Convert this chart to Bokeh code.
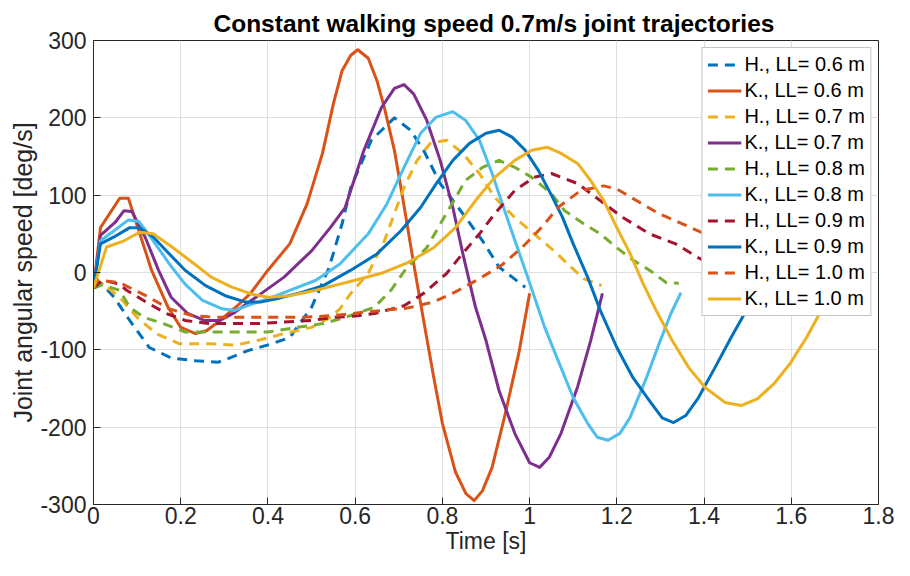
from bokeh.plotting import figure
from bokeh.models import Range1d, FixedTicker, Legend, LegendItem
from bokeh.embed import file_html
from bokeh.resources import INLINE

# ---------------- data ----------------
title_text = "Constant walking speed 0.7m/s joint trajectories"
x_label = "Time [s]"
y_label = "Joint angular speed [deg/s]"

x_ticks = [0, 0.2, 0.4, 0.6, 0.8, 1, 1.2, 1.4, 1.6, 1.8]
x_tick_labels = ["0", "0.2", "0.4", "0.6", "0.8", "1", "1.2", "1.4", "1.6", "1.8"]
y_ticks = [-300, -200, -100, 0, 100, 200, 300]
y_tick_labels = ["-300", "-200", "-100", "0", "100", "200", "300"]

series_names = ["H., LL= 0.6 m", "K., LL= 0.6 m", "H., LL= 0.7 m", "K., LL= 0.7 m",
                "H., LL= 0.8 m", "K., LL= 0.8 m", "H., LL= 0.9 m", "K., LL= 0.9 m",
                "H., LL= 1.0 m", "K., LL= 1.0 m"]

t_h06 = [0, 0.02, 0.047, 0.083, 0.128, 0.18, 0.234, 0.286, 0.31, 0.354, 0.41, 0.45, 0.50, 0.54,
         0.57, 0.59, 0.637, 0.69, 0.727, 0.757, 0.795, 0.847, 0.892, 0.93, 0.99]
v_h06 = [-20, -15, -32, -62, -97, -111, -114, -116, -111, -101, -92, -84, -45, 6,
         63, 110, 171, 200, 184, 158, 115, 76, 41, 7, -19]

t_k06 = [0, 0.016, 0.06, 0.08, 0.104, 0.133, 0.171, 0.2, 0.234, 0.26, 0.29, 0.33, 0.36, 0.40, 0.45,
         0.49, 0.525, 0.55, 0.57, 0.59, 0.606, 0.63, 0.65, 0.667, 0.69, 0.71, 0.734, 0.757, 0.78,
         0.80, 0.83, 0.854, 0.873, 0.892, 0.914, 0.944, 0.975, 1.0]
v_k06 = [-20, 58, 96, 96, 54, 3, -45, -71, -79, -75, -62, -43, -27, 3, 37,
         89, 154, 218, 261, 281, 288, 277, 248, 213, 158, 93, 12, -62, -135,
         -195, -258, -286, -295, -282, -252, -183, -105, -27]

t_h07 = [0, 0.02, 0.06, 0.1, 0.144, 0.196, 0.264, 0.324, 0.376, 0.437, 0.50, 0.543, 0.565, 0.59,
         0.63, 0.667, 0.712, 0.742, 0.772, 0.81, 0.847, 0.885, 0.92, 0.966, 1.01, 1.056, 1.095,
         1.124, 1.165]
v_h07 = [-20, -14, -32, -58, -79, -92, -92, -94, -88, -79, -71, -58, -47, -27,
         -1, 41, 110, 145, 167, 171, 154, 128, 97, 71, 50, 28, 7,
         -8, -17]

t_k07 = [0, 0.016, 0.05, 0.07, 0.088, 0.119, 0.149, 0.178, 0.216, 0.254, 0.29, 0.32, 0.385, 0.437,
         0.50, 0.543, 0.577, 0.62, 0.66, 0.69, 0.712, 0.734, 0.764, 0.795, 0.824, 0.847, 0.876,
         0.9, 0.93, 0.966, 1.0, 1.023, 1.045, 1.072, 1.11, 1.14, 1.167]
v_k07 = [-20, 48, 65, 80, 79, 45, 3, -32, -53, -62, -62, -53, -27, -6,
         28, 58, 84, 158, 213, 238, 243, 231, 197, 145, 84, 24, -45,
         -88, -153, -208, -246, -252, -239, -208, -148, -88, -27]

t_h08 = [0, 0.02, 0.06, 0.083, 0.115, 0.16, 0.21, 0.27, 0.34, 0.40, 0.466, 0.527, 0.577, 0.644,
         0.682, 0.718, 0.764, 0.817, 0.853, 0.892, 0.93, 0.966, 1.005, 1.05, 1.08, 1.124, 1.162,
         1.2, 1.237, 1.275, 1.313, 1.342]
v_h08 = [-20, -16, -23, -45, -58, -66, -77, -77, -77, -77, -71, -66, -58, -45,
         -23, 6, 32, 84, 119, 136, 145, 136, 123, 102, 80, 63, 50,
         32, 16, 3, -13, -14]

t_k08 = [0, 0.016, 0.047, 0.08, 0.104, 0.137, 0.174, 0.21, 0.25, 0.295, 0.324, 0.363, 0.41, 0.45,
         0.51, 0.565, 0.63, 0.673, 0.712, 0.75, 0.786, 0.824, 0.853, 0.885, 0.914, 0.953, 0.998,
         1.034, 1.072, 1.10, 1.133, 1.155, 1.18, 1.207, 1.23, 1.268, 1.297, 1.324, 1.347]
v_k08 = [-20, 41, 54, 68, 66, 41, 11, -15, -36, -47, -49, -41, -32, -23,
         -10, 11, 50, 89, 136, 180, 201, 208, 197, 171, 128, 63, -10,
         -70, -123, -162, -195, -213, -217, -208, -188, -136, -92, -53, -26]

t_h09 = [0, 0.02, 0.06, 0.076, 0.12, 0.167, 0.21, 0.264, 0.324, 0.376, 0.437, 0.50, 0.55, 0.606,
         0.644, 0.712, 0.757, 0.81, 0.847, 0.885, 0.92, 0.966, 1.01, 1.05, 1.11, 1.162, 1.214,
         1.275, 1.335, 1.387, 1.45, 1.515]
v_h09 = [-20, -10, -15, -23, -38, -53, -62, -66, -66, -66, -64, -62, -58, -56,
         -53, -43, -27, -1, 25, 50, 76, 106, 123, 128, 115, 93, 71,
         50, 37, 19, 3, -12]

t_k09 = [0, 0.016, 0.047, 0.083, 0.106, 0.137, 0.174, 0.21, 0.257, 0.302, 0.347, 0.385, 0.42, 0.475,
         0.527, 0.59, 0.65, 0.705, 0.75, 0.786, 0.824, 0.862, 0.9, 0.93, 0.96, 0.99, 1.02,
         1.05, 1.075, 1.10, 1.133, 1.162, 1.2, 1.237, 1.275, 1.304, 1.33, 1.358, 1.387, 1.425,
         1.462, 1.493, 1.515]
v_k09 = [-20, 37, 46, 58, 58, 46, 24, 3, -17, -30, -38, -38, -34, -26,
         -17, 3, 24, 54, 84, 115, 145, 167, 180, 184, 175, 158, 132,
         100, 72, 37, -6, -49, -97, -136, -166, -188, -194, -185, -162, -123,
         -84, -53, -25]

t_h10 = [0, 0.01, 0.06, 0.12, 0.174, 0.227, 0.286, 0.354, 0.414, 0.48, 0.543, 0.644, 0.72, 0.78,
         0.83, 0.885, 0.937, 0.982, 1.027, 1.065, 1.117, 1.17, 1.2, 1.245, 1.297, 1.35, 1.394,
         1.45, 1.52, 1.6, 1.69]
v_h10 = [-20, -10, -13, -30, -47, -56, -58, -58, -58, -58, -56, -50, -46, -38,
         -25, -8, 10, 32, 58, 84, 106, 112, 108, 93, 76, 63, 52,
         38, 20, 0, -15]

t_k10 = [0, 0.03, 0.07, 0.106, 0.137, 0.18, 0.227, 0.27, 0.317, 0.363, 0.40, 0.45, 0.51, 0.565,
         0.6, 0.66, 0.718, 0.78, 0.83, 0.876, 0.92, 0.966, 1.005, 1.04, 1.072, 1.11, 1.14,
         1.17, 1.2, 1.23, 1.26, 1.29, 1.327, 1.365, 1.403, 1.448, 1.485, 1.523, 1.56, 1.597,
         1.635, 1.665, 1.69]
v_k10 = [-20, 33, 41, 52, 50, 33, 13, -6, -19, -28, -32, -30, -23, -15,
         -10, -1, 12, 32, 58, 93, 123, 145, 158, 162, 154, 141, 119,
         93, 58, 25, -14, -49, -88, -123, -149, -168, -172, -163, -144, -118,
         -84, -53, -25]

series_t = [t_h06, t_k06, t_h07, t_k07, t_h08, t_k08, t_h09, t_k09, t_h10, t_k10]
series_v = [v_h06, v_k06, v_h07, v_k07, v_h08, v_k08, v_h09, v_k09, v_h10, v_k10]
series_colors = ["#0072BD", "#D95319", "#EDB120", "#7E2F8E", "#77AC30",
                 "#4DBEEE", "#A2142F", "#0072BD", "#D95319", "#EDB120"]
series_dashed = [True, False, True, False, True, False, True, False, True, False]

# ---------------- figure ----------------
AX = "#262626"
SANS = "Liberation Sans"

p = figure(width=894, height=560, x_range=Range1d(0, 1.8), y_range=Range1d(-300, 300),
           output_backend="svg", toolbar_location=None,
           min_border_left=93, min_border_right=16, min_border_top=40, min_border_bottom=56)

p.title.text = title_text
p.title.align = "left"
p.title.offset = 120
p.title.text_font = SANS
p.title.text_font_style = "bold"
p.title.text_font_size = "24.5px"
p.title.text_color = "#000000"
p.title.standoff = 8

p.background_fill_color = "white"
p.border_fill_color = "white"
p.outline_line_color = AX
p.outline_line_width = 1

for ax in (p.xaxis[0], p.yaxis[0]):
    ax.axis_line_color = AX
    ax.major_tick_line_color = AX
    ax.major_tick_in = 7
    ax.major_tick_out = 0
    ax.minor_tick_line_color = None
    ax.major_label_text_color = AX
    ax.major_label_text_font = SANS
    ax.major_label_text_font_size = "23px"
    ax.axis_label_text_color = AX
    ax.axis_label_text_font = SANS
    ax.axis_label_text_font_style = "normal"

p.xaxis.ticker = FixedTicker(ticks=x_ticks)
p.xaxis.major_label_overrides = dict(zip(x_ticks, x_tick_labels))
p.xaxis.major_label_standoff = 2
p.xaxis.axis_label = x_label
p.xaxis.axis_label_text_font_size = "23px"
p.xaxis.axis_label_standoff = 1

p.yaxis.ticker = FixedTicker(ticks=y_ticks)
p.yaxis.major_label_overrides = dict(zip(y_ticks, y_tick_labels))
p.yaxis.major_label_standoff = 7
p.yaxis.axis_label = y_label
p.yaxis.axis_label_text_font_size = "25px"
p.yaxis.axis_label_standoff = 0

p.xgrid.ticker = FixedTicker(ticks=x_ticks)
p.ygrid.ticker = FixedTicker(ticks=y_ticks)
p.grid.grid_line_color = "#DEDEDE"
p.grid.grid_line_width = 1

items = []
for name, tt, vv, col, dashed in zip(series_names, series_t, series_v, series_colors, series_dashed):
    r = p.line(tt, vv, line_color=col, line_width=3,
               line_dash="10 7" if dashed else "solid", line_join="round")
    items.append(LegendItem(label=name, renderers=[r]))

legend = Legend(items=items, location="top_right")
legend.label_text_font = SANS
legend.label_text_font_size = "20px"
legend.label_text_color = "#000000"
legend.label_height = 21
legend.glyph_height = 21
legend.glyph_width = 34
legend.label_standoff = 3
legend.spacing = 3
legend.padding = 5
legend.margin = 7
legend.border_line_color = "#8C8C8C"
legend.border_line_width = 1
legend.background_fill_color = "white"
legend.background_fill_alpha = 1.0
p.add_layout(legend, "center")

open("out.html", "w").write(file_html(p, INLINE))
